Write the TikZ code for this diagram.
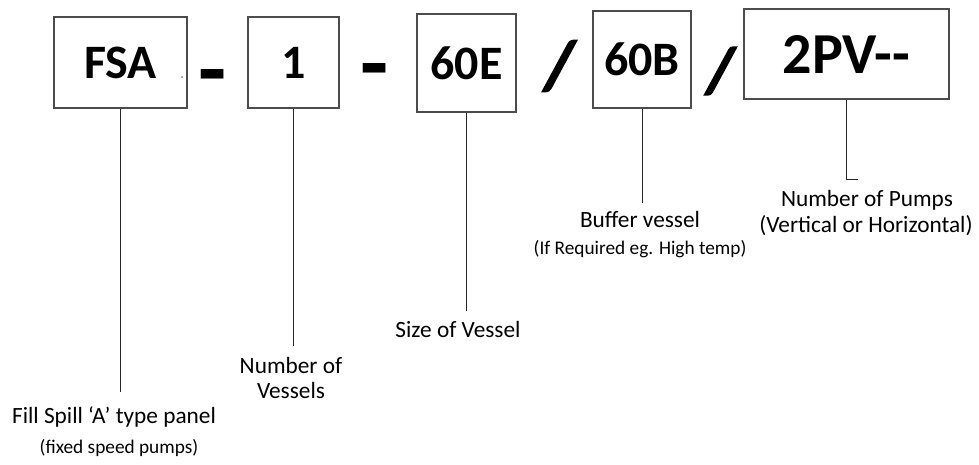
\documentclass[tikz,border=0pt]{standalone}
\usepackage{fontspec}
\setmainfont{Carlito}
\begin{document}
\begin{tikzpicture}[x=1pt,y=-1pt,
  code/.style={draw=black!70,line width=1.1pt,inner sep=0pt,font=\fontsize{48}{50}\selectfont\bfseries},
  bigcode/.style={code,font=\fontsize{58}{60}\selectfont\bfseries},
  sepdash/.style={inner sep=0pt,font=\fontsize{92}{92}\selectfont\bfseries},
  sepslash/.style={inner sep=0pt,xslant=0.07,font=\fontsize{68}{70}\selectfont\bfseries\addfontfeature{FakeBold=2.5}},
  lbl/.style={inner sep=0pt,anchor=base,font=\fontsize{23.3}{26}\selectfont},
  note/.style={inner sep=0pt,anchor=base,font=\fontsize{19.3}{22}\selectfont},
  conn/.style={draw=black!85,line width=0.9pt}]
\useasboundingbox (0,0) rectangle (979,464);
% code boxes
\node[code,minimum width=133pt,minimum height=91pt] (fsa) at (120.5,62.5) {FSA};
\node[code,minimum width=91pt,minimum height=91pt] (one) at (293.5,62.5) {1};
\node[code,minimum width=99pt,minimum height=98pt] (sixe) at (466.5,63) {60E};
\node[code,minimum width=98pt,minimum height=97pt] (sixb) at (642,59.5) {60B};
\node[bigcode,minimum width=205pt,minimum height=90pt] (pv) at (846.5,54) {2PV-{}-};
% separators
\node[sepdash] (d1) at (213,85) {-};
\node[sepdash] (d2) at (375,79) {-};
\node[sepslash] (s1) at (559.5,66) {/};
\node[sepslash,font=\fontsize{64}{66}\selectfont\bfseries\addfontfeature{FakeBold=2.5}] (s2) at (720.5,71) {/};
\fill[blue!75] (182,77) circle (0.9pt);
% labels
\node[lbl] (fsaL) at (114,423) {Fill Spill ‘A’ type panel};
\node[note] (fsaN) at (119,453) {(fixed speed pumps)};
\node[lbl] (oneL) at (291,373) {Number of};
\node[lbl] (oneL2) at (291,398) {Vessels};
\node[lbl] (sixeL) at (458,337) {Size of Vessel};
\node[lbl] (sixbL) at (640,227) {Buffer vessel};
\node[note] (sixbN) at (640,254) {(If Required eg. High temp)};
\node[lbl] (pvL) at (867,206) {Number of Pumps};
\node[lbl] (pvL2) at (866,232) {(Vertical or Horizontal)};
% connectors
\draw[conn,shorten >=14pt] (fsa.south) -- (fsa.south |- fsaL.north);
\draw[conn,shorten >=11pt] (one.south) -- (one.south |- oneL.north);
\draw[conn,shorten >=10pt] (sixe.south) -- (sixe.south |- sixeL.north);
\draw[conn,shorten >=8pt] (sixb.south) -- (sixb.south |- sixbL.north);
\coordinate (pvEnd) at (858,179);
\draw[conn] (pv.south) |- (pvEnd);
\end{tikzpicture}
\end{document}
